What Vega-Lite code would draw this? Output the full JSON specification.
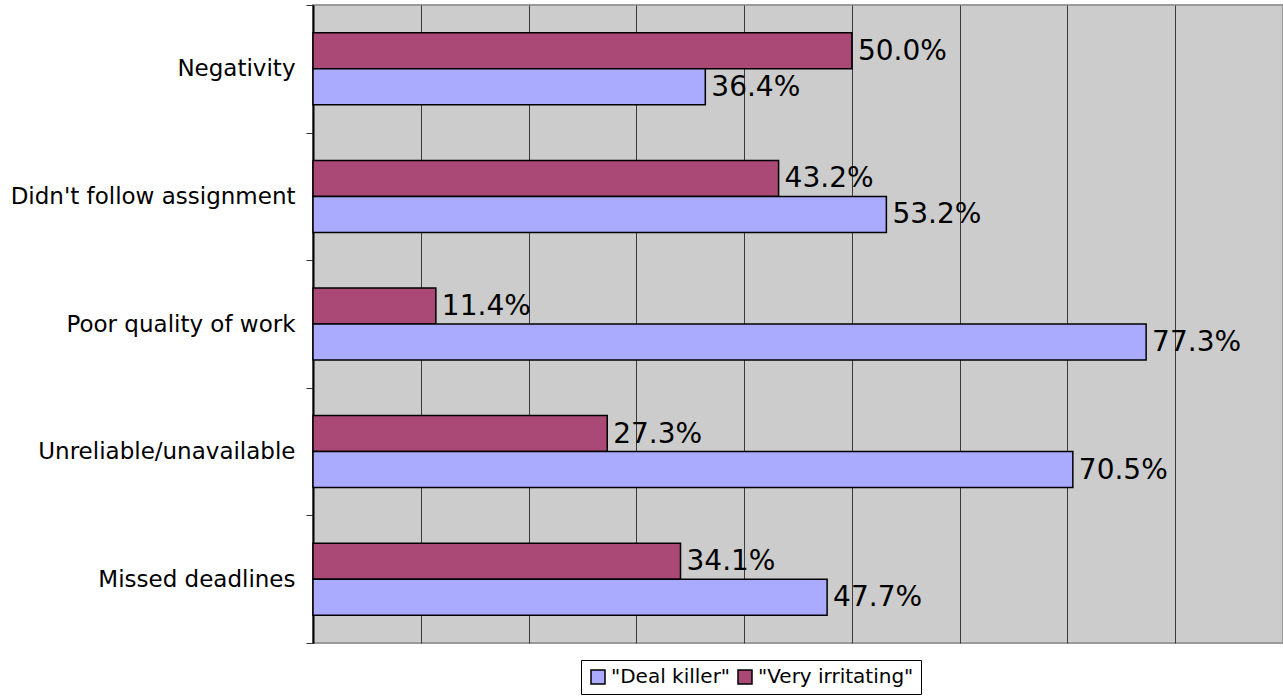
{
  "$schema": "https://vega.github.io/schema/vega-lite/v6.json",
  "autosize": "none",
  "width": 970,
  "height": 638,
  "padding": {"left": 313, "top": 5, "right": 0, "bottom": 53},
  "background": "white",
  "config": {
    "font": "DejaVu Sans",
    "view": {"fill": "#CCCCCC", "stroke": "#9a9a9a", "strokeWidth": 2}
  },
  "data": {
    "values": [
      {"issue": "Negativity", "series": "\"Very irritating\"", "share": 0.500},
      {"issue": "Negativity", "series": "\"Deal killer\"", "share": 0.364},
      {"issue": "Didn't follow assignment", "series": "\"Very irritating\"", "share": 0.432},
      {"issue": "Didn't follow assignment", "series": "\"Deal killer\"", "share": 0.532},
      {"issue": "Poor quality of work", "series": "\"Very irritating\"", "share": 0.114},
      {"issue": "Poor quality of work", "series": "\"Deal killer\"", "share": 0.773},
      {"issue": "Unreliable/unavailable", "series": "\"Very irritating\"", "share": 0.273},
      {"issue": "Unreliable/unavailable", "series": "\"Deal killer\"", "share": 0.705},
      {"issue": "Missed deadlines", "series": "\"Very irritating\"", "share": 0.341},
      {"issue": "Missed deadlines", "series": "\"Deal killer\"", "share": 0.477}
    ]
  },
  "encoding": {
    "y": {
      "field": "issue",
      "type": "nominal",
      "sort": null,
      "scale": {"paddingInner": 0, "paddingOuter": 0},
      "axis": {
        "title": null,
        "tickBand": "extent",
        "labelFontSize": 23,
        "labelLimit": 0,
        "labelColor": "#000000",
        "labelPadding": 11,
        "tickSize": 7,
        "tickColor": "#333333",
        "tickWidth": 1,
        "domainColor": "#000000",
        "domainWidth": 2,
        "grid": false
      }
    },
    "x": {
      "field": "share",
      "type": "quantitative",
      "scale": {"domain": [0, 0.9], "nice": false},
      "axis": {
        "title": null,
        "values": [0, 0.1, 0.2, 0.3, 0.4, 0.5, 0.6, 0.7, 0.8, 0.9],
        "labels": false,
        "ticks": false,
        "domain": false,
        "grid": true,
        "gridColor": "#3a3a3a",
        "gridWidth": 1,
        "gridOpacity": 1
      }
    },
    "yOffset": {
      "field": "series",
      "type": "nominal",
      "scale": {
        "domain": ["\"Very irritating\"", "\"Deal killer\""],
        "paddingInner": 0,
        "paddingOuter": 0.772
      }
    }
  },
  "layer": [
    {
      "mark": {"type": "bar", "stroke": "#000000", "strokeWidth": 1.5},
      "encoding": {
        "color": {
          "field": "series",
          "type": "nominal",
          "scale": {
            "domain": ["\"Deal killer\"", "\"Very irritating\""],
            "range": ["#AAAAFF", "#AA4876"]
          },
          "legend": {
            "title": null,
            "orient": "none",
            "direction": "horizontal",
            "legendX": 268,
            "legendY": 655,
            "fillColor": "#FFFFFF",
            "strokeColor": "#000000",
            "padding": 7,
            "symbolType": "square",
            "symbolSize": 196,
            "symbolStrokeColor": "#000000",
            "symbolStrokeWidth": 1.5,
            "symbolOpacity": 1,
            "labelFontSize": 20,
            "labelColor": "#000000",
            "labelOffset": 3,
            "columnPadding": 4
          }
        }
      }
    },
    {
      "mark": {
        "type": "text",
        "align": "left",
        "baseline": "middle",
        "dx": 6,
        "dy": 1,
        "fontSize": 28,
        "color": "#000000"
      },
      "encoding": {
        "text": {"field": "share", "type": "quantitative", "format": ".1%"}
      }
    }
  ]
}
